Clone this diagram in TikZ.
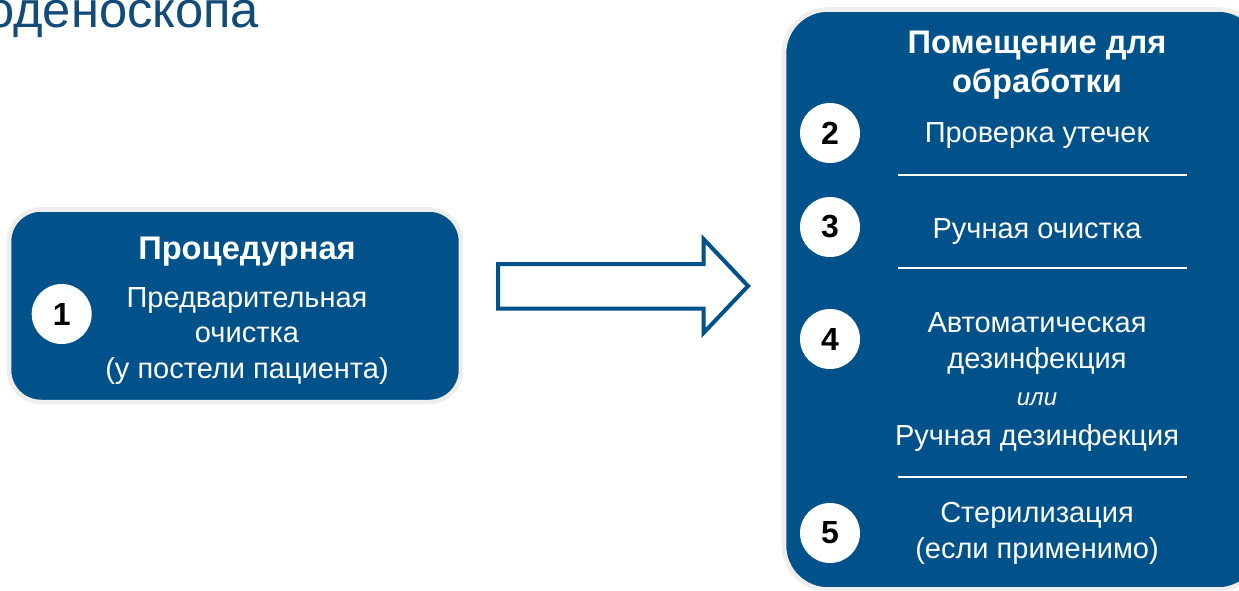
\documentclass[tikz,border=0pt]{standalone}
\usepackage{fontspec}
\setmainfont{Liberation Sans}
\definecolor{boxblue}{RGB}{1,82,138}
\definecolor{titleblue}{RGB}{18,74,120}
\definecolor{rimgray}{RGB}{238,238,238}
\tikzset{
  roombox/.style={rectangle, draw=rimgray, line width=3.4pt, fill=boxblue, inner sep=0pt},
  numdot/.style={circle, fill=white, minimum size=45pt, inner sep=0pt, text=black,
     font=\bfseries\fontsize{24}{24}\selectfont},
  bodytxt/.style={text=white, align=center, anchor=base, inner sep=0pt,
     font=\fontsize{21.75}{26.6}\selectfont},
  headtxt/.style={text=white, align=center, anchor=base, inner sep=0pt,
     font=\bfseries\fontsize{24.5}{29.25}\selectfont},
  ortxt/.style={text=white, anchor=base, inner sep=0pt, font=\itshape\fontsize{18}{18}\selectfont},
  sepline/.style={draw=white, line width=2pt},
  bigarrow/.style={draw=boxblue, line width=3pt, line join=miter, fill=white}
}
\begin{document}
\begin{tikzpicture}[x=0.75pt,y=-0.75pt]
\useasboundingbox (0,0) rectangle (1239,590);
\fill[white] (0,0) rectangle (1239,590);

% partial title
\node[anchor=base west, inner sep=0pt, text=titleblue, font=\fontsize{38}{38}\selectfont] (title) at (-14,27) {оденоскопа};

% left box
\node[roombox, rounded corners=24pt, minimum width=339pt, minimum height=144.4pt] (proc) at (235,305.75) {};
\node[headtxt] (proctitle) at (247,259) {Процедурная};
\node[numdot] (n1) at (61.7,314) {1};
\node[bodytxt] (pre) at (247,378) {Предварительная\\очистка\\(у постели пациента)};

% right box
\node[roombox, rounded corners=33pt, minimum width=358.5pt, minimum height=435pt] (room) at (1023,299.5) {};
\node[headtxt] (roomtitle) at (1037,92) {Помещение для\\обработки};

\node[numdot] (n2) at (830,133) {2};
\node[bodytxt] (leak) at (1037,142) {Проверка утечек};
\coordinate (s1a) at (898,175); \coordinate (s1b) at (1187,175);
\draw[sepline] (s1a) -- (s1b);

\node[numdot] (n3) at (830,227) {3};
\node[bodytxt] (manclean) at (1037,238) {Ручная очистка};
\coordinate (s2a) at (898,268); \coordinate (s2b) at (1187,268);
\draw[sepline] (s2a) -- (s2b);

\node[numdot] (n4) at (830,339) {4};
\node[bodytxt] (autodis) at (1037,368) {Автоматическая\\дезинфекция};
\node[ortxt] (or) at (1037,405) {или};
\node[bodytxt] (mandis) at (1037,445) {Ручная дезинфекция};
\coordinate (s3a) at (898,477); \coordinate (s3b) at (1187,477);
\draw[sepline] (s3a) -- (s3b);

\node[numdot] (n5) at (830,533) {5};
\node[bodytxt] (steril) at (1037,558) {Стерилизация\\(если применимо)};

% big outlined arrow
\coordinate (a1) at (498,264);
\coordinate (a2) at (703.5,264);
\coordinate (a3) at (703.5,239);
\coordinate (a4) at (748,286);
\coordinate (a5) at (703.5,333);
\coordinate (a6) at (703.5,308.5);
\coordinate (a7) at (498,308.5);
\draw[bigarrow] (a1) -- (a2) -- (a3) -- (a4) -- (a5) -- (a6) -- (a7) -- cycle;
\end{tikzpicture}
\end{document}
